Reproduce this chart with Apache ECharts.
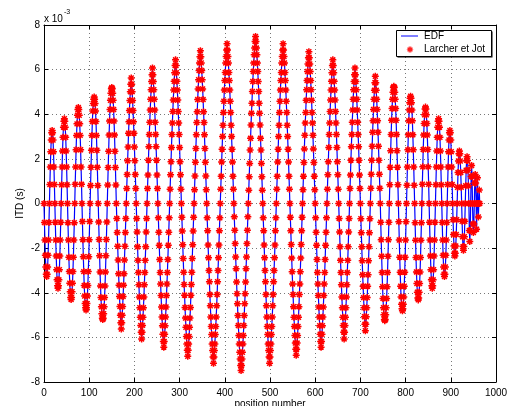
<!DOCTYPE html>
<html>
<head>
<meta charset="utf-8">
<script src="https://cdn.jsdelivr.net/npm/echarts@6/dist/echarts.min.js"></script>
<style>
html,body{margin:0;padding:0;background:#fff}
#chart{width:513px;height:406px}
</style>
</head>
<body>
<div id="chart"></div>
<script>
// positions per measurement ring, in the order they are numbered
const ringSize = [24,28,32,36,40,44,48,52,56,60,64,60,56,52,48,44,40,36,32,28,24,20,16,8,8,4,4,1]
// peak ITD of each ring (x 1e-3 s)
const ringPeak = [3.27,3.8,4.3,4.77,5.2,5.63,6.07,6.44,6.85,7.16,7.49,7.16,6.8,6.44,6.07,5.7,5.25,4.81,4.32,3.8,3.27,2.35,2.1,1.7,1.3,1.15,0.6,0]
// levels from 0 up to the peak over a quarter ring (fraction of peak), by quarter length
const quarterShape = [
  [0,1],
  [0,.71,1],
  [0,.5,.87,1],
  [0,.38,.71,.92,1],
  [0,.31,.59,.81,.95,1],
  [0,.26,.5,.71,.87,.97,1],
  [0,.22,.43,.62,.78,.9,.97,1],
  [0,.2,.38,.56,.71,.83,.92,.98,1],
  [0,.17,.34,.5,.64,.77,.87,.94,.98,1],
  [0,.16,.31,.45,.59,.71,.81,.89,.95,.99,1],
  [0,.12,.23,.34,.45,.56,.65,.74,.82,.89,.95,1],
  [0,.11,.21,.32,.42,.51,.6,.69,.77,.84,.9,.95,1],
  [0,.1,.2,.29,.39,.48,.56,.64,.72,.79,.85,.91,.96,1],
  [0,.09,.18,.27,.36,.45,.53,.6,.68,.75,.81,.87,.92,.96,1],
  [0,.09,.17,.26,.34,.42,.49,.57,.64,.71,.77,.82,.88,.92,.96,1],
  [0,.08,.16,.24,.32,.39,.47,.54,.6,.67,.73,.79,.84,.89,.93,.97,1]
]
const legendNames = ['EDF','Larcher et Jot']

// each ring: 0 -> -peak -> 0 -> +peak -> back towards 0
const itd = []
let pos = 0
ringSize.forEach((n,i)=>{
  const a = ringPeak[i]
  if(n === 1){
    itd.push([pos,0])
    pos += 1
    return
  }
  const q = n/4
  const s = quarterShape.find(p=>p.length === q+1)
  for(let k=0;k<n;k++){
    let v
    if(k <= q) v = -s[k]
    else if(k <= 2*q) v = -s[2*q-k]
    else if(k <= 3*q) v = s[k-2*q]
    else v = s[4*q-k]
    itd.push([pos+k, +(a*v).toFixed(3)])
  }
  pos += n
})

const font = 'Liberation Sans, Arial, Helvetica, sans-serif'
const star = 'path://M0,-10L0,10M-10,0L10,0M-7,-7L7,7M-7,7L7,-7'

const gridLine = { show:true, lineStyle:{ color:'#777', width:1, type:[1,3] } }
const boxLine = { show:true, onZero:false, lineStyle:{ color:'#000', width:1 } }
const tick = { show:true, inside:true, length:4, lineStyle:{ color:'#000' } }

var myChart = echarts.init(document.getElementById('chart'))
const option = {
  animation:false,
  textStyle:{ fontFamily:font },
  grid:{ left:44, right:17, top:25, bottom:24, containLabel:false, outerBoundsMode:'none' },
  graphic:[
    {
      type:'text', left:44, top:9,
      style:{
        text:'{a|x 10}{b|-3}',
        rich:{
          a:{ fontSize:10, fontFamily:font, fill:'#000', padding:[5,0,0,0] },
          b:{ fontSize:7, fontFamily:font, fill:'#000', verticalAlign:'top', padding:[0,0,0,1] }
        }
      }
    },
    // legend box
    { type:'rect', shape:{ x:397.5, y:31.5, width:95, height:26 }, style:{ fill:'#000' }, z:10 },
    { type:'rect', shape:{ x:396.5, y:30.5, width:95, height:26 }, style:{ fill:'#fff', stroke:'#000', lineWidth:1 }, z:11 },
    { type:'line', shape:{ x1:401, y1:36, x2:418, y2:36 }, style:{ stroke:'#0000ff', lineWidth:1 }, z:12 },
    { type:'text', x:424, y:36, style:{ text:legendNames[0], fontSize:10, fontFamily:font, fill:'#000', verticalAlign:'middle' }, z:12 },
    { type:'circle', shape:{ cx:410, cy:49.5, r:2.8 }, style:{ fill:'#ff2020', stroke:'#ff9090', lineWidth:1 }, z:12 },
    { type:'text', x:424, y:49.5, style:{ text:legendNames[1], fontSize:10, fontFamily:font, fill:'#000', verticalAlign:'middle' }, z:12 }
  ],
  xAxis:[
    {
      type:'value', min:0, max:1000, interval:100, position:'bottom',
      axisLine:boxLine, axisTick:tick, splitLine:gridLine,
      axisLabel:{ color:'#000', fontSize:10, margin:6, formatter:v=>String(v) },
      name:'position number', nameLocation:'middle', nameGap:17, nameMoveOverlap:false,
      nameTextStyle:{ color:'#000', fontSize:10 }
    },
    {
      type:'value', min:0, max:1000, interval:100, position:'top',
      axisLine:boxLine, axisTick:tick, splitLine:{ show:false }, axisLabel:{ show:false }
    }
  ],
  yAxis:[
    {
      type:'value', min:-8, max:8, interval:2, position:'left',
      axisLine:boxLine, axisTick:tick, splitLine:gridLine,
      axisLabel:{ color:'#000', fontSize:10, margin:4 },
      name:'ITD (s)', nameLocation:'middle', nameGap:19, nameMoveOverlap:false,
      nameTextStyle:{ color:'#000', fontSize:10 }
    },
    {
      type:'value', min:-8, max:8, interval:2, position:'right',
      axisLine:boxLine, axisTick:tick, splitLine:{ show:false }, axisLabel:{ show:false }
    }
  ],
  series:[
    {
      name:legendNames[0],
      type:'line',
      data:itd,
      symbol:'none',
      silent:true,
      lineStyle:{ color:'#0000ff', width:1.2 },
      itemStyle:{ color:'#0000ff' },
      z:2
    },
    {
      name:legendNames[1],
      type:'scatter',
      data:itd,
      symbol:star,
      symbolSize:7,
      silent:true,
      itemStyle:{ color:'#ff0000', borderColor:'#ff0000', borderWidth:1.5, opacity:1 },
      z:3
    }
  ]
}
myChart.setOption(option)
</script>
</body>
</html>
